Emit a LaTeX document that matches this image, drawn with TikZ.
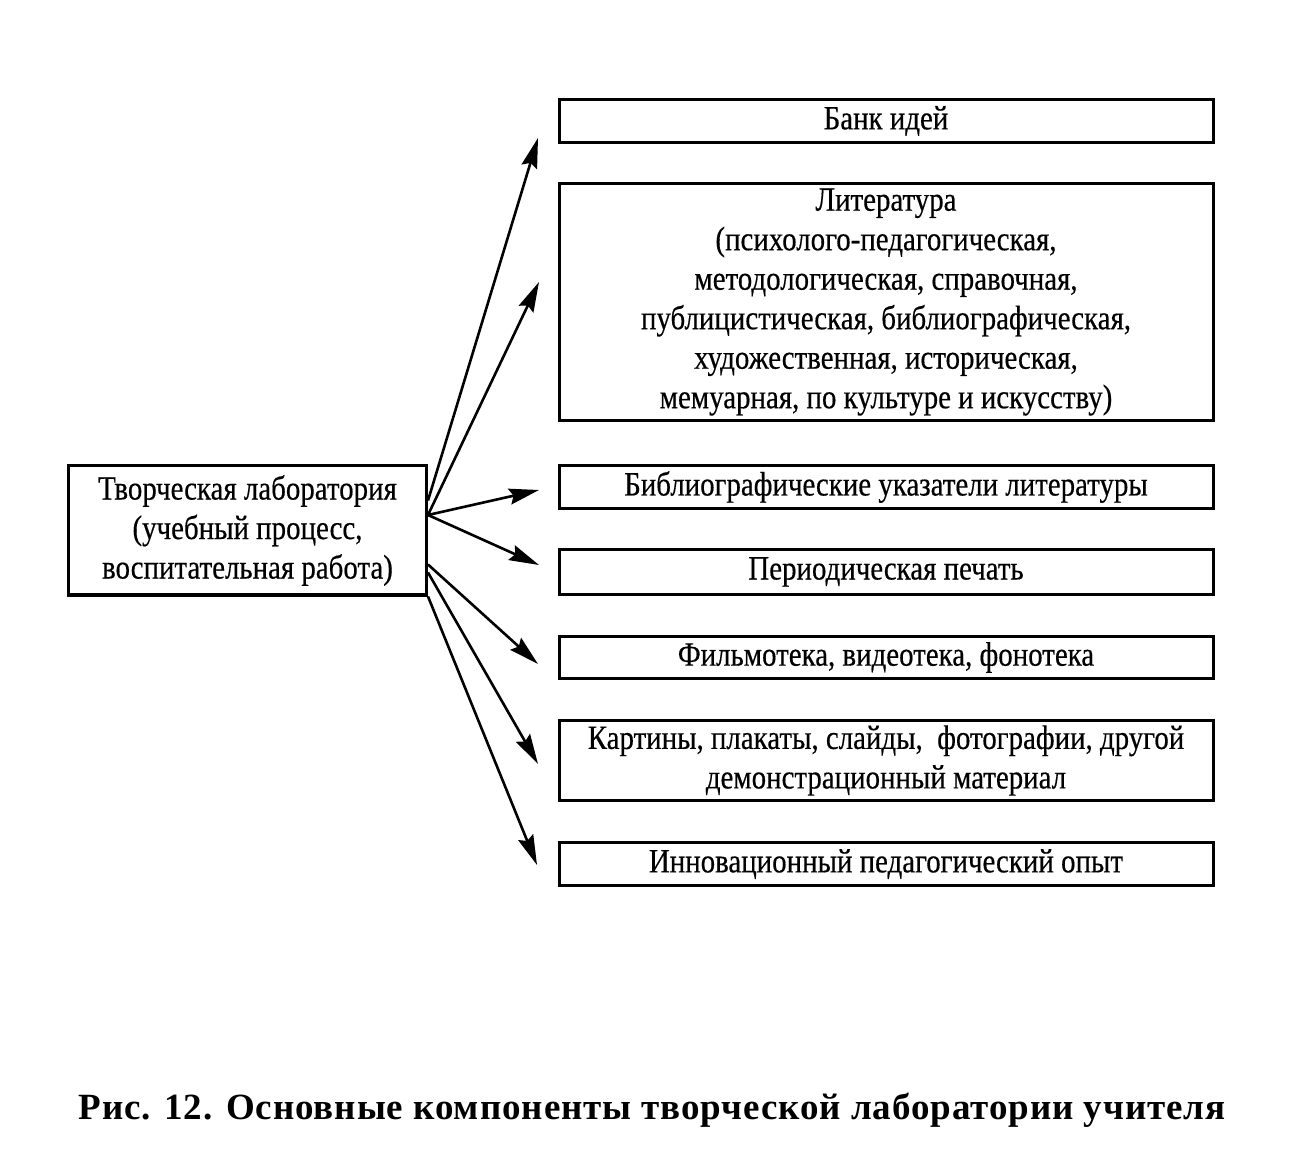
\documentclass[tikz,border=0pt]{standalone}
\usepackage{fontspec}
\setmainfont{Liberation Serif}[FakeStretch=0.85, FakeBold=0.4]
\newfontfamily\capfont{Liberation Serif}[LetterSpace=2.5]
\usepackage{tikz}
\usetikzlibrary{arrows.meta,positioning}

\begin{document}
\begin{tikzpicture}[x=0.5pt, y=-0.5pt,
  item/.style={draw, line width=1.5pt, fill=white, minimum width=327pt,
    minimum height=21.5pt, inner ysep=0.5pt, align=center,
    font=\fontsize{17}{19.75}\selectfont},
  hub/.style={draw, line width=1.5pt, fill=white, minimum width=179pt,
    minimum height=64.5pt, inner ysep=0.5pt, align=center,
    font=\fontsize{17}{19.75}\selectfont},
  link/.style={-{Stealth[length=15pt, width=8pt, inset=2pt]}, line width=1.3pt}
]
  \useasboundingbox (0,0) rectangle (1306,1170);

  % right column
  \node[item] (bank) at (886,121) {Банк идей};
  \node[item, minimum height=118.5pt, below=19pt of bank] (lit)
    {Литература\\(психолого-педагогическая,\\методологическая, справочная,\\публицистическая, библиографическая,\\художественная, историческая,\\мемуарная, по культуре и искусству)};
  \node[item, below=21pt of lit] (biblio) {Библиографические указатели литературы};
  \node[item, minimum height=22.5pt, below=19pt of biblio] (press) {Периодическая печать};
  \node[item, minimum height=21pt, below=19.5pt of press] (media) {Фильмотека, видеотека, фонотека};
  \node[item, minimum height=40pt, below=19.5pt of media] (visual)
    {Картины, плакаты, слайды,\ \ фотографии, другой\\демонстрационный материал};
  \node[item, below=19.5pt of visual] (innov) {Инновационный педагогический опыт};

  % left box
  \node[hub] (lab) at (247.5,530.5)
    {Творческая лаборатория\\(учебный процесс,\\воспитательная работа)};

  % arrow tips
  \coordinate (tbank) at (538,138);
  \coordinate (tlit) at (539,282);
  \coordinate (tbiblio) at (539,490);
  \coordinate (tpress) at (539,565);
  \coordinate (tmedia) at (538,664);
  \coordinate (tvisual) at (538,764);
  \coordinate (tinnov) at (537,865);

  \draw[link] ([yshift=15pt]lab.east) -- (tbank);
  \draw[link] ([yshift=7.75pt]lab.east) -- (tlit);
  \draw[link] ([yshift=7.75pt]lab.east) -- (tbiblio);
  \draw[link] ([yshift=7.75pt]lab.east) -- (tpress);
  \draw[link] ([yshift=-17pt]lab.east) -- (tmedia);
  \draw[link] ([yshift=-21pt]lab.east) -- (tvisual);
  \draw[link] (lab.south east) -- (tinnov);

  % caption
  \node[font=\capfont\fontsize{18.5}{20}\selectfont\bfseries] (caption) at (652,1110)
    {Рис. 12. Основные компоненты творческой лаборатории учителя};
\end{tikzpicture}
\end{document}
